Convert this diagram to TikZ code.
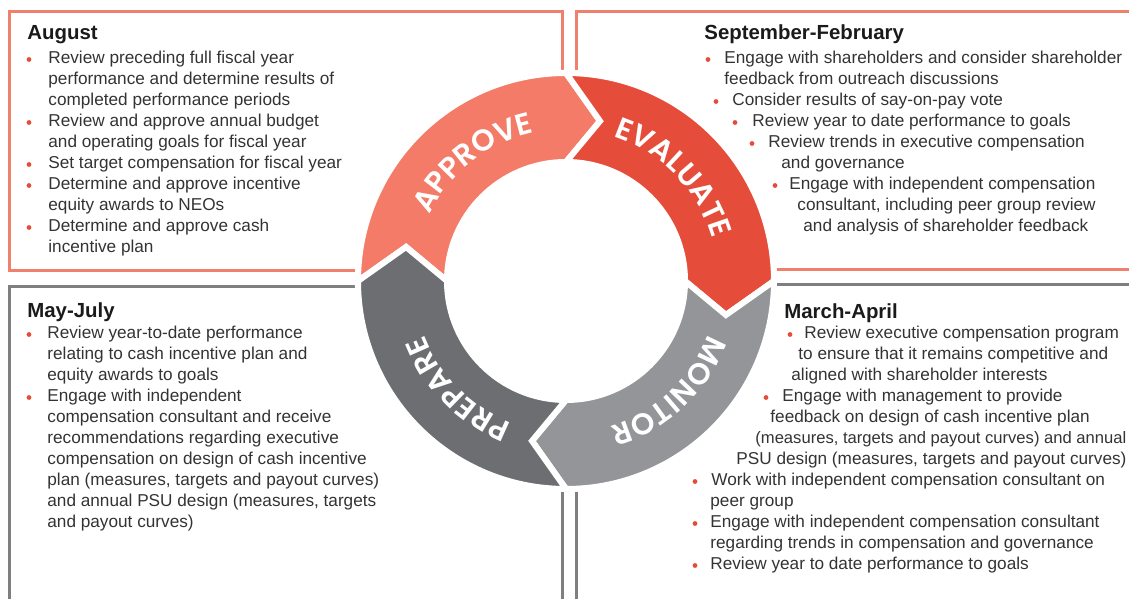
\documentclass[tikz,border=0pt]{standalone}
\usepackage{fontspec}
\setmainfont{Liberation Sans}
\newfontfamily\lblfam{Poppins SemiBold}
\usetikzlibrary{decorations.text}

\definecolor{approve}{HTML}{F47B67}
\definecolor{evaluate}{HTML}{E54C3A}
\definecolor{monitor}{HTML}{939598}
\definecolor{prepare}{HTML}{6D6E71}
\definecolor{boxorange}{HTML}{F0806E}
\definecolor{boxgray}{HTML}{7F7F7F}
\definecolor{bodytext}{HTML}{333333}
\definecolor{titletext}{HTML}{1A1A1A}

\newcommand\bodyfont{\fontsize{8.6}{10.5}\selectfont}
\newcommand\tightfont{\fontsize{8.3}{10.5}\selectfont}
\newcommand\titlefont{\fontsize{10.2}{12}\selectfont\bfseries}
\newcommand\lblfont{\lblfam\fontsize{15}{16}\selectfont}

\begin{document}
\begin{tikzpicture}[x=0.5pt,y=0.5pt,
			txt/.style={anchor=base west,inner sep=0pt,font=\bodyfont,text=bodytext},
			ttl/.style={anchor=base west,inner sep=0pt,font=\titlefont,text=titletext},
			dot/.style={circle,fill=evaluate,inner sep=0pt,minimum size=2.4pt},
			boxo/.style={draw=boxorange,line width=1.5pt},
			boxg/.style={draw=boxgray,line width=1.5pt},
			seg/.style={draw=white,line width=3pt,line join=miter}]
			
			\useasboundingbox (0,0) rectangle (1129,599);
			
			% quadrant frames
			\draw[boxo] (9,587) rectangle (562,328);
			\draw[boxo] (576,587) rectangle (1140,329);
			\draw[boxg] (9,312) rectangle (562,-10);
			\draw[boxg] (576,314) rectangle (1140,-10);
			
			% titles
			\node[ttl] (aug) at (27,559.5) {August};
			\node[ttl] (sep) at (704,559) {September-February};
			\node[ttl] (may) at (27,281) {May-July};
			\node[ttl] (mar) at (784,280) {March-April};
			
			% August
			\foreach \y/\t [count=\i] in {
				535/{Review preceding full fiscal year},
				514/{performance and determine results of},
				493/{completed performance periods},
				472/{Review and approve annual budget},
				451/{and operating goals for fiscal year},
				430/{Set target compensation for fiscal year},
				409/{Determine and approve incentive},
				388/{equity awards to NEOs},
				367/{Determine and approve cash},
				346/{incentive plan}}
			\node[txt] (aug\i) at (48,\y) {\t};
			\foreach \x/\y [count=\i] in {29/539.5,29/476.5,29/434.5,29/413.5,29/371.5}
			\node[dot] (augd\i) at (\x,\y) {};
			
			% September-February
			\foreach \x/\y/\t [count=\i] in {
				724/535/{Engage with shareholders and consider shareholder},
				724/514/{feedback from outreach discussions},
				732/493/{Consider results of say-on-pay vote},
				752/472/{Review year to date performance to goals},
				768/451/{Review trends in executive compensation},
				781/430/{and governance},
				789/409/{Engage with independent compensation},
				797/388/{consultant, including peer group review},
				803/367/{and analysis of shareholder feedback}}
			\node[txt] (sep\i) at (\x,\y) {\t};
			\foreach \x/\y [count=\i] in {708/539.5,716/497.5,735/476.5,752/455.5,775/413.5}
			\node[dot] (sepd\i) at (\x,\y) {};
			
			% May-July
			\foreach \y/\t [count=\i] in {
				260/{Review year-to-date performance},
				239/{relating to cash incentive plan and},
				218/{equity awards to goals},
				197/{Engage with independent},
				176/{compensation consultant and receive},
				155/{recommendations regarding executive},
				134/{compensation on design of cash incentive},
				113/{plan (measures, targets and payout curves)},
				92/{and annual PSU design (measures, targets},
				71/{and payout curves)}}
			\node[txt] (may\i) at (47,\y) {\t};
			\foreach \x/\y [count=\i] in {29/264.5,29/201.5}
			\node[dot] (mayd\i) at (\x,\y) {};
			
			% March-April
			\foreach \x/\y/\t [count=\i] in {
				804/260/{Review executive compensation program},
				798/239/{to ensure that it remains competitive and},
				791/218/{aligned with shareholder interests},
				782/197/{Engage with management to provide},
				770/176/{feedback on design of cash incentive plan},
				755/155/{\tightfont(measures, targets and payout curves) and annual},
				736/134/{PSU design (measures, targets and payout curves)},
				711/113/{Work with independent compensation consultant on},
				710/92/{peer group},
				710/71/{Engage with independent compensation consultant},
				710/50/{regarding trends in compensation and governance},
				710/29/{Review year to date performance to goals}}
			\node[txt] (mar\i) at (\x,\y) {\t};
			\foreach \x/\y [count=\i] in {790/264.5,766/201.5,695/117.5,695/75.5,695/33.5}
			\node[dot] (mard\i) at (\x,\y) {};
			
			% cycle ring
			\begin{scope}[shift={(566,318)}]
				\fill[white] (0,0) circle[radius=211];
				\foreach \a/\c in {180/approve,90/evaluate,0/monitor,-90/prepare}
				\filldraw[seg,fill=\c] (\a:208) arc[start angle=\a,end angle=\a-90,radius=208]
				-- (\a-102:163.5) -- (\a-90:119) arc[start angle=\a-90,end angle=\a,radius=119]
				-- (\a-12:163.5) -- cycle;
				
				\path[decorate,decoration={text along path,text align=center,text color=white,
					text={|\lblfont|APPROVE}}] (178:152) arc[start angle=178,end angle=78,radius=152];
				\path[decorate,decoration={text along path,text align=center,text color=white,
					text={|\lblfont|EVALUATE}}] (94:152) arc[start angle=94,end angle=-6,radius=152];
				\path[decorate,decoration={text along path,text align=center,text color=white,
					text={|\lblfont|MONITOR}}] (3:152) arc[start angle=3,end angle=-97,radius=152];
				\path[decorate,decoration={text along path,text align=center,text color=white,
					text={|\lblfont|PREPARE}}] (-85:152) arc[start angle=-85,end angle=-185,radius=152];
			\end{scope}
			
		\end{tikzpicture}
\end{document}
